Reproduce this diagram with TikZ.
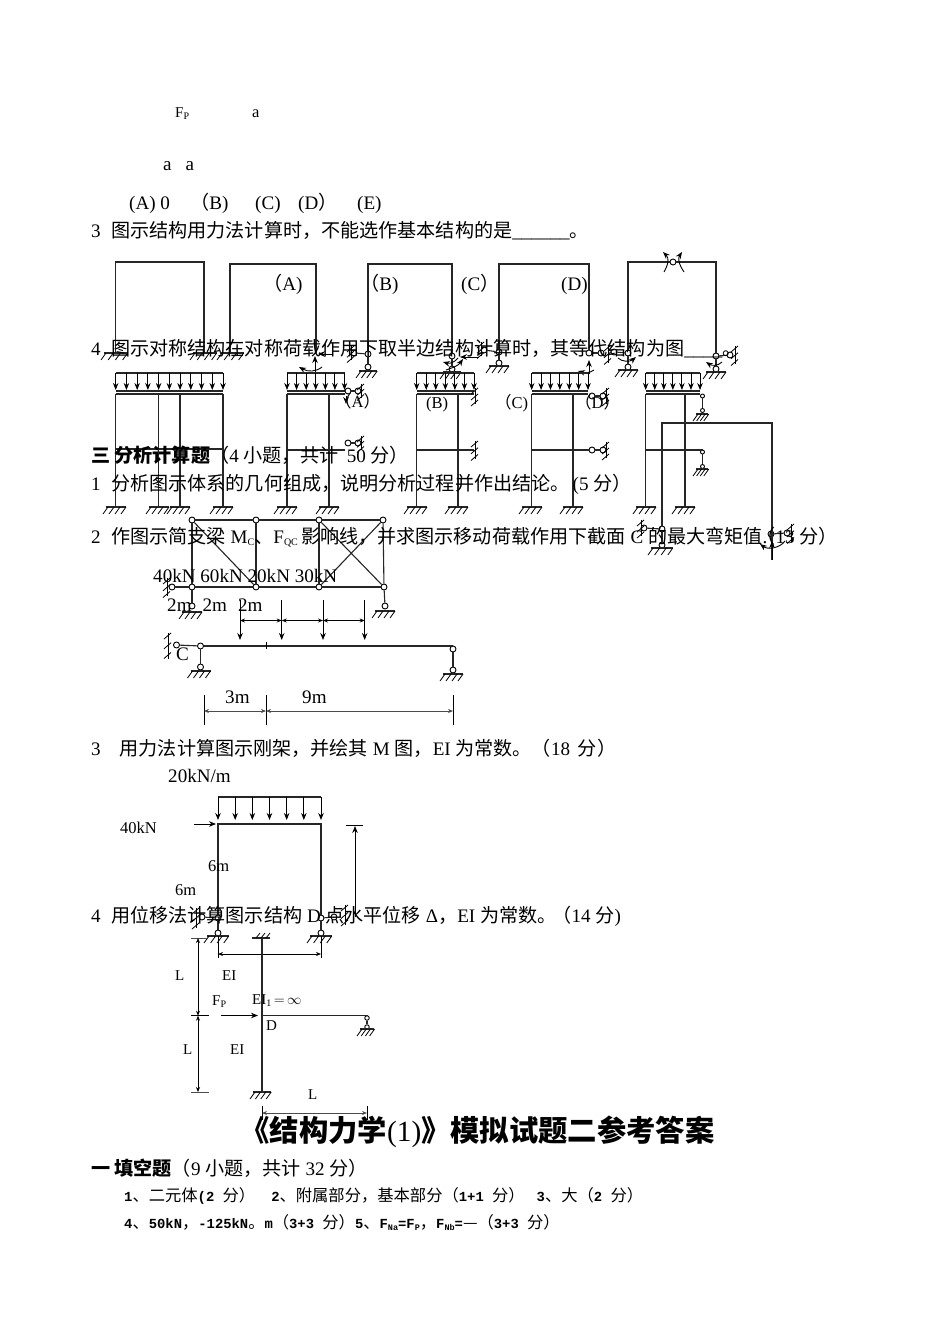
\documentclass[tikz,border=0pt]{standalone}
\usepackage{fontspec}
\setmainfont{Liberation Serif}
\newfontfamily\cjk{Noto Sans CJK SC}
\newfontfamily\monofnt{Liberation Mono}[Scale=0.85]
\usetikzlibrary{arrows.meta}
\newcommand{\cn}[1]{{\cjk #1}}
\newcommand{\cm}[1]{{\cjk\mdseries #1}}
\newcommand{\subs}[1]{\raisebox{-2pt}{\fontsize{10}{10}\selectfont #1}}
% ground: centre x, y, half width
\newcommand{\groundat}[3]{
    \draw[member] (#1-#3,#2) -- (#1+#3,#2);
    \foreach \k in {0,1,2,3} {
        \draw[thin] (#1-#3+2+\k*#3*0.6,#2) -- ++(-5,7);
    }
}
% wall: x, y, half height
\newcommand{\wallat}[3]{
    \draw[thin] (#1,#2-#3) -- (#1,#2+#3);
    \foreach \k in {0,1,2} {
        \draw[thin] (#1+3,#2-#3+\k*#3*0.75) -- ++(-7,6);
    }
}
% load: x left, x right, number of gaps
\newcommand{\loadrow}[3]{
    \draw[member] (#1,373) -- (#2,373);
    \foreach \k in {0,...,#3} {
        \draw[arrow] ({#1+\k*(#2-#1)/#3},373) -- ({#1+\k*(#2-#1)/#3},390);
    }
    \draw[member,line width=1.8pt] (#1,391) -- (#2,391);
    \draw[member] (#1,394) -- (#2,394);
}
\begin{document}
\begin{tikzpicture}[
        x=1pt, y=-1pt,
        member/.style={line width=1.1pt, color=black!85},
        thin/.style={line width=0.8pt, color=black},
        arrow/.style={-{Stealth[length=7pt,width=5.5pt]}, line width=0.9pt},
        dim/.style={{Stealth[length=5pt,width=4pt]}-{Stealth[length=5pt,width=4pt]}, line width=0.7pt, color=black!70},
        hinge/.style={circle, draw=black, line width=0.9pt, fill=white, inner sep=0pt, minimum size=6pt},
        txt/.style={anchor=base west, inner sep=0pt, font=\fontsize{19.1}{19}\selectfont},
        sml/.style={anchor=base west, inner sep=0pt, font=\fontsize{15}{15}\selectfont},
        lbl/.style={anchor=base west, inner sep=0pt, font=\fontsize{16.5}{16}\selectfont},
        ans/.style={anchor=base west, inner sep=0pt, font=\fontsize{16.3}{16}\selectfont\monofnt\bfseries}
    ]
    \useasboundingbox[fill=white] (0,0) rectangle (950,1344);

    % frames of question 3
    \coordinate (fa) at (115.5,353); \coordinate (fb) at (115.5,262);
    \coordinate (fc) at (204,262);   \coordinate (fd) at (204,353);
    \draw[member] (fa) -- (fb) -- (fc) -- (fd);
    \groundat{116}{353}{12} \groundat{205}{353}{12}

    \coordinate (ga) at (230,353); \coordinate (gb) at (230,264);
    \coordinate (gc) at (316,264); \coordinate (gd) at (316,353);
    \draw[member] (ga) -- (gb) -- (gc) -- (gd);
    \groundat{232}{353}{12}
    \draw[arrow] (333,354) -- (318,354);
    \draw[arrow] (315,376) -- (315,356);
    \draw[arrow] (322,367) .. controls (316,372) and (308,372) .. (299,367);

    \coordinate (ha) at (368,264); \coordinate (hb) at (452,264);
    \node[hinge] (h1) at (368,354) {};
    \node[hinge] (h2) at (354,353) {};
    \node[hinge] (h3) at (368,367) {};
    \node[hinge] (h4) at (452,356) {};
    \node[hinge] (h5) at (452,369) {};
    \draw[member] (h1) -- (ha) -- (hb) -- (h4);
    \draw[member] (h1) -- (h2);
    \draw[member] (h1) -- (h3);
    \draw[member] (h4) -- (h5);
    \wallat{351}{353}{7}
    \groundat{368}{371}{9}
    \groundat{452}{372}{9}
    \draw[arrow] (478,357) -- (460,357);
    \draw[arrow] (458,358) .. controls (455,362) and (450,364) .. (443,362);
    \draw[arrow] (446,370) .. controls (452,368) and (458,366) .. (463,359);

    \coordinate (ia) at (499,264); \coordinate (ib) at (589,264);
    \node[hinge] (i1) at (499,352) {};
    \node[hinge] (i2) at (484,350) {};
    \node[hinge] (i3) at (499,363) {};
    \node[hinge] (i4) at (589,353) {};
    \node[hinge] (i5) at (601,353) {};
    \draw[member] (i1) -- (ia) -- (ib) -- (i4);
    \draw[member] (i1) -- (i2);
    \draw[member] (i1) -- (i3);
    \draw[member] (i4) -- (i5);
    \wallat{481}{349}{7}
    \wallat{608}{354}{9}
    \groundat{499}{366}{10}
    \draw[arrow] (589,374) -- (589,360);
    \draw[arrow] (594,370) .. controls (590,373) and (585,373) .. (578,371);

    \coordinate (ja) at (628,262); \coordinate (jb) at (716,262);
    \node[hinge] (j0) at (673,262) {};
    \node[hinge] (j1) at (628,353) {};
    \node[hinge] (j2) at (614,352) {};
    \node[hinge] (j3) at (628,367) {};
    \node[hinge] (j4) at (716,356) {};
    \node[hinge] (j5) at (716,369) {};
    \node[hinge] (j6) at (730,355) {};
    \draw[member] (j1) -- (ja) -- (j0) -- (jb) -- (j4);
    \draw[member] (j1) -- (j2);
    \draw[member] (j1) -- (j3);
    \draw[member] (j4) -- (j5);
    \draw[member] (j4) -- (j6);
    \wallat{735}{355}{9}
    \groundat{628}{370}{10}
    \groundat{716}{372}{10}
    \draw[arrow] (664,272) .. controls (669,263) and (669,258) .. (663,252);
    \draw[arrow] (684,272) .. controls (678,263) and (678,258) .. (682,252);
    \draw[arrow] (618,358) .. controls (622,362) and (630,362) .. (636,357);
    \draw[arrow] (722,362) .. controls (718,366) and (712,366) .. (706,362);

    % frames of question 4
    \loadrow{115.7}{223}{10}
    \coordinate (ka) at (115.7,394); \coordinate (kb) at (115.7,507);
    \coordinate (kc) at (158.7,394); \coordinate (kd) at (158.7,507);
    \coordinate (ke) at (180,394);   \coordinate (kf) at (180,507);
    \coordinate (kg) at (223,394);   \coordinate (kh) at (223,507);
    \coordinate (ki) at (115.7,449); \coordinate (kj) at (223,449);
    \draw[member] (ka) -- (kb);
    \draw[member] (kc) -- (kd);
    \draw[member] (ke) -- (kf);
    \draw[member] (kg) -- (kh);
    \draw[member] (ki) -- (kj);
    \groundat{116}{507}{10} \groundat{159}{507}{10} \groundat{180}{507}{10} \groundat{223}{507}{10}

    \loadrow{287}{344.5}{6}
    \coordinate (la) at (287,394); \coordinate (lb) at (287,507);
    \coordinate (lc) at (329,394); \coordinate (ld) at (329,507);
    \coordinate (le) at (287,450); \coordinate (lf) at (345,450);
    \node[hinge] (l1) at (348,391) {};
    \node[hinge] (l2) at (358,391) {};
    \node[hinge] (l3) at (348,443) {};
    \node[hinge] (l4) at (358,443) {};
    \draw[member] (la) -- (lb);
    \draw[member] (lc) -- (ld);
    \draw[member] (le) -- (lf);
    \draw[member] (l1) -- (l2);
    \draw[member] (l3) -- (l4);
    \wallat{361}{391}{7} \wallat{361}{443}{7}
    \groundat{287}{507}{10} \groundat{329}{507}{10}
    \draw[arrow] (346,396) -- (346,404);

    \loadrow{416.7}{474}{6}
    \coordinate (ma) at (416.7,394); \coordinate (mb) at (416.7,507);
    \coordinate (mc) at (458,394);   \coordinate (md) at (458,507);
    \coordinate (me) at (416.7,450); \coordinate (mf) at (474,450);
    \draw[member] (ma) -- (mb);
    \draw[member] (mc) -- (md);
    \draw[member] (me) -- (mf);
    \wallat{475}{396}{8} \wallat{475}{450}{9}
    \groundat{417}{507}{10} \groundat{458}{507}{10}

    \loadrow{531.7}{588}{6}
    \coordinate (na) at (531.7,394); \coordinate (nb) at (531.7,507);
    \coordinate (nc) at (573,394);   \coordinate (nd) at (573,507);
    \coordinate (ne) at (531.7,450);
    \node[hinge] (n1) at (592,396) {};
    \node[hinge] (n2) at (603,396) {};
    \node[hinge] (n3) at (592,450) {};
    \node[hinge] (n4) at (603,450) {};
    \draw[member] (na) -- (nb);
    \draw[member] (nc) -- (nd);
    \draw[member] (ne) -- (n3);
    \draw[member] (n1) -- (n2);
    \draw[member] (n3) -- (n4);
    \wallat{606}{396}{8} \wallat{606}{450}{8}
    \groundat{532}{507}{10} \groundat{573}{507}{10}

    \loadrow{645.7}{700}{6}
    \coordinate (oa) at (645.7,394); \coordinate (ob) at (645.7,507);
    \coordinate (oc) at (685,394);   \coordinate (od) at (685,507);
    \coordinate (oe) at (645.7,450);
    \node[hinge, minimum size=4pt] (o1) at (702.5,396) {};
    \node[hinge, minimum size=4pt] (o2) at (702.5,410.5) {};
    \node[hinge, minimum size=4pt] (o3) at (702.5,452) {};
    \node[hinge, minimum size=4pt] (o4) at (702.5,466.5) {};
    \draw[member] (oa) -- (ob);
    \draw[member] (oc) -- (od);
    \draw[member] (oe) -- (702.5,450);
    \draw[member] (o1) -- (o2);
    \draw[member] (o3) -- (o4);
    \groundat{702}{414}{6} \groundat{702}{469}{6}
    \groundat{646}{507}{10} \groundat{685}{507}{10}

    % large frame over question 4
    \coordinate (pa) at (662,423); \coordinate (pb) at (772,423);
    \coordinate (pc) at (772,560);
    \node[hinge] (p1) at (662,529) {};
    \node[hinge] (p2) at (644,528) {};
    \node[hinge] (p3) at (662,545) {};
    \node[hinge] (p4) at (771,534) {};
    \node[hinge] (p5) at (787,533) {};
    \draw[member] (p1) -- (pa) -- (pb) -- (pc);
    \draw[member] (p1) -- (p2);
    \draw[member] (p1) -- (p3);
    \draw[member] (p4) -- (p5);
    \wallat{641}{528}{8}
    \wallat{791}{533}{9}
    \groundat{662}{548}{11}
    \draw[arrow] (772,560) -- (772,541);
    \draw[arrow] (785,541) .. controls (780,548) and (768,550) .. (760,544);

    % truss
    \node[hinge] (ta) at (192,520) {};
    \node[hinge] (tb) at (256,520) {};
    \node[hinge] (tc) at (319,520) {};
    \node[hinge] (td) at (383,520) {};
    \node[hinge] (te) at (192,587) {};
    \node[hinge] (tf) at (256,587) {};
    \node[hinge] (tg) at (319,587) {};
    \node[hinge] (th) at (384,587) {};
    \node[hinge] (ti) at (172,587) {};
    \node[hinge] (tj) at (192,606) {};
    \node[hinge] (tk) at (385,606) {};
    \draw[member] (ta) -- (tb) -- (tc) -- (td);
    \draw[member] (te) -- (tf) -- (tg) -- (th);
    \draw[member] (ta) -- (te);
    \draw[member] (tb) -- (tf);
    \draw[member] (tc) -- (tg);
    \draw[member] (td) -- (th);
    \draw[member] (ta) -- (tf);
    \draw[member] (tc) -- (th);
    \draw[member] (td) -- (tg);
    \draw[member] (ti) -- (te);
    \draw[member] (te) -- (tj);
    \draw[member] (th) -- (tk);
    \wallat{167}{587}{9}
    \groundat{192}{612}{10}
    \groundat{385}{611}{10}

    % beam with moving loads
    \node[hinge] (ba) at (200.5,646) {};
    \node[hinge] (bb) at (453,649) {};
    \node[hinge] (bc) at (176.5,645) {};
    \node[hinge] (bd) at (200.5,667) {};
    \node[hinge] (be) at (453,670) {};
    \coordinate (bf) at (266,646);
    \draw[member] (ba) -- (453,646) -- (bb);
    \draw[member] (bc) -- (ba);
    \draw[member] (ba) -- (bd);
    \draw[member] (bb) -- (be);
    \draw[thin] (266,641.5) -- (266,649);
    \wallat{168}{646}{13}
    \groundat{200.5}{671}{10}
    \groundat{453}{674}{10}
    \foreach \px in {240,281.7,323,364.7} {
        \draw[arrow] (\px,600) -- (\px,640);
    }
    \draw[dim,color=black] (240,620.5) -- (281.7,620.5);
    \draw[dim,color=black] (281.7,620.5) -- (323,620.5);
    \draw[dim,color=black] (323,620.5) -- (364.7,620.5);
    \coordinate (da) at (204,711); \coordinate (db) at (266,711); \coordinate (dc) at (453,711);
    \draw[thin] (204,695) -- (204,725);
    \draw[thin] (266,695) -- (266,725);
    \draw[thin] (453,695) -- (453,725);
    \draw[dim] (da) -- (db);
    \draw[dim] (db) -- (dc);

    % rigid frame of question 3
    \node[hinge] (ca) at (218,918) {};
    \node[hinge] (cb) at (321,918) {};
    \node[hinge] (cc) at (218,933) {};
    \node[hinge] (cd) at (321,933) {};
    \node[hinge] (ce) at (202,917) {};
    \node[hinge] (cf) at (334,917) {};
    \coordinate (cg) at (218,824); \coordinate (ch) at (321,824);
    \draw[member] (ca) -- (cg) -- (ch) -- (cb);
    \draw[member] (ca) -- (cc);
    \draw[member] (cb) -- (cd);
    \draw[member] (ca) -- (ce);
    \draw[member] (cb) -- (cf);
    \wallat{196}{918}{10}
    \wallat{345}{915}{10}
    \groundat{218}{936}{11}
    \groundat{321}{936}{11}
    \draw[member] (218,797) -- (321,797);
    \foreach \k in {0,...,6} {
        \draw[arrow] ({218+\k*103/6},797) -- ({218+\k*103/6},820);
    }
    \draw[arrow] (194,824) -- (216,824);
    \draw[thin] (346,825) -- (363,825);
    \draw[arrow] (355,917) -- (355,826);
    \draw[thin] (218,936) -- (218,958);
    \draw[thin] (321,936) -- (321,958);
    \draw[dim,color=black] (218,954) -- (321,954);

    % frame of question 4
    \coordinate (ea) at (262,938); \coordinate (eb) at (262,1092);
    \coordinate (ec) at (262,1015.7); \coordinate (ed) at (367,1015.7);
    \node[hinge, minimum size=4.5pt] (e1) at (367,1018) {};
    \node[hinge, minimum size=4.5pt] (e2) at (367,1027) {};
    \draw[member] (ea) -- (eb);
    \draw[member] (ec) -- (ed) -- (e1);
    \draw[member] (e1) -- (e2);
    \draw[member] (252,938) -- (270,938);
    \foreach \k in {0,1,2} {
        \draw[thin] (256+\k*5,938) -- ++(4,-5);
    }
    \groundat{262}{1092}{9}
    \groundat{367}{1029}{7}
    \draw[arrow] (221,1015.5) -- (258,1015.5);
    \draw[thin,color=black!70] (191,938) -- (207,938);
    \draw[thin] (191,1015.7) -- (209,1015.7);
    \draw[thin,color=black!70] (191,1092) -- (209,1092);
    \draw[dim,color=black] (198,938) -- (198,1015.7);
    \draw[dim,color=black] (198,1015.7) -- (198,1092);
    \draw[thin] (262,1106) -- (262,1120);
    \draw[thin] (367,1106) -- (367,1120);
    \draw[dim] (262,1113) -- (367,1113);

    % texts
    \node[sml] (t01) at (175,117) {F\subs{P}};
    \node[lbl] (t02) at (252,117) {a};
    \node[txt] (t03) at (163,170) {a\hspace{14pt}a};
    \node[txt] (t04) at (129,209) {(A) 0};
    \node[txt] (t05) at (190,209) {\cn{（}B)};
    \node[txt] (t06) at (255,209) {(C)};
    \node[txt] (t07) at (298,209) {(D\cn{）}};
    \node[txt] (t08) at (357,209) {(E)};
    \node[txt] (t09) at (91,237) {3\hspace{10.5pt}\cn{图示结构用力法计算时，不能选作基本结构的是}\_\_\_\_\_\_\cn{。}};
    \node[txt] (t10) at (263,290) {\cn{（}A)};
    \node[txt] (t11) at (360,290) {\cn{（}B)};
    \node[txt] (t12) at (461,290) {(C\cn{）}};
    \node[txt] (t13) at (561,290) {(D)};
    \node[txt] (t14) at (91,355) {4\hspace{10.5pt}\cn{图示对称结构在对称荷载作用下取半边结构计算时，其等代结构为图}\_\_\_\_\cn{。}};
    \node[lbl] (t15) at (335,407) {\cn{（}A\cn{）}};
    \node[lbl] (t16) at (426,408) {(B)};
    \node[lbl] (t17) at (495,408) {\cn{（}C)};
    \node[lbl] (t18) at (575,408) {\cn{（}D\cn{）}};
    \node[txt] (t19) at (91,462) {\cn{\bfseries 三 分析计算题}\cn{（}4 \cn{小题，共计}\hspace{3pt} 50 \cn{分）}};
    \node[txt] (t20) at (91,490) {1\hspace{10.5pt}\cn{分析图示体系的几何组成，说明分析过程并作出结论。}\hspace{3pt}(5 \cn{分）}};
    \node[txt] (t21) at (91,543) {2\hspace{10.5pt}\cn{作图示简支梁} M\subs{C}\cn{、}F\subs{QC}\,\cn{影响线，并求图示移动荷载作用下截面} C \cn{的最大弯矩值}.\hspace{-11pt}\cn{（}13 \cn{分）}};
    \node[txt] (t22) at (153,582) {40kN 60kN 20kN 30kN};
    \node[txt] (t23) at (167,611) {2m\hspace{11pt}2m\hspace{11pt}2m};
    \node[txt] (t24) at (176,660) {C};
    \node[txt] (t25) at (225,703) {3m};
    \node[txt] (t26) at (302,703) {9m};
    \node[txt] (t27) at (91,755) {3\hspace{19pt}\cn{用力法计算图示刚架，并绘其} M \cn{图，}EI \cn{为常数。（}18 \hspace{3pt}\cn{分）}};
    \node[txt] (t28) at (168,782) {20kN/m};
    \node[lbl] (t29) at (120,833) {40kN};
    \node[lbl] (t30) at (208,871) {6m};
    \node[lbl] (t31) at (175,895) {6m};
    \node[txt] (t32) at (91,922) {4\hspace{10.5pt}\cn{用位移法计算图示结构} D \cn{点水平位移} Δ\cn{，}EI \cn{为常数。}\hspace{-4pt}\cn{（}14 \cn{分})};
    \node[sml] (t33) at (175,980) {L};
    \node[sml] (t34) at (222,980) {EI};
    \node[sml] (t35) at (212,1005) {F\subs{P}};
    \node[sml] (t36) at (252,1004) {EI\subs{1}$\,{=}\,\infty$};
    \node[sml] (t37) at (266,1030) {D};
    \node[sml] (t38) at (183,1054) {L};
    \node[sml] (t39) at (230,1054) {EI};
    \node[sml] (t40) at (308,1099) {L};
    \node[anchor=base, inner sep=0pt, font=\fontsize{29.3}{30}\selectfont] (t41) at (477.5,1141) {\cn{\bfseries 《结构力学}(1)\cn{\bfseries 》模拟试题二参考答案}};
    \node[txt] (t42) at (91,1175) {\cn{\bfseries 一 填空题}\cn{（}9 \cn{小题，共计} 32 \cn{分）}};
    \node[ans] (t43) at (124,1201) {1\cm{、二元体}(2 \cm{分）\hspace{16pt}}2\cm{、附属部分，基本部分（}1+1 \cm{分）}\hspace{12pt}3\cm{、大（}2 \cm{分）}};
    \node[ans] (t44) at (124,1228) {4\cm{、}50kN\cm{，}-125kN\cm{。}m\cm{（}3+3 \cm{分）}5\cm{、}F\subs{Na}=F\subs{P}\cm{，}F\subs{Nb}=\cm{—（}3+3 \cm{分）}};
\end{tikzpicture}
\end{document}
